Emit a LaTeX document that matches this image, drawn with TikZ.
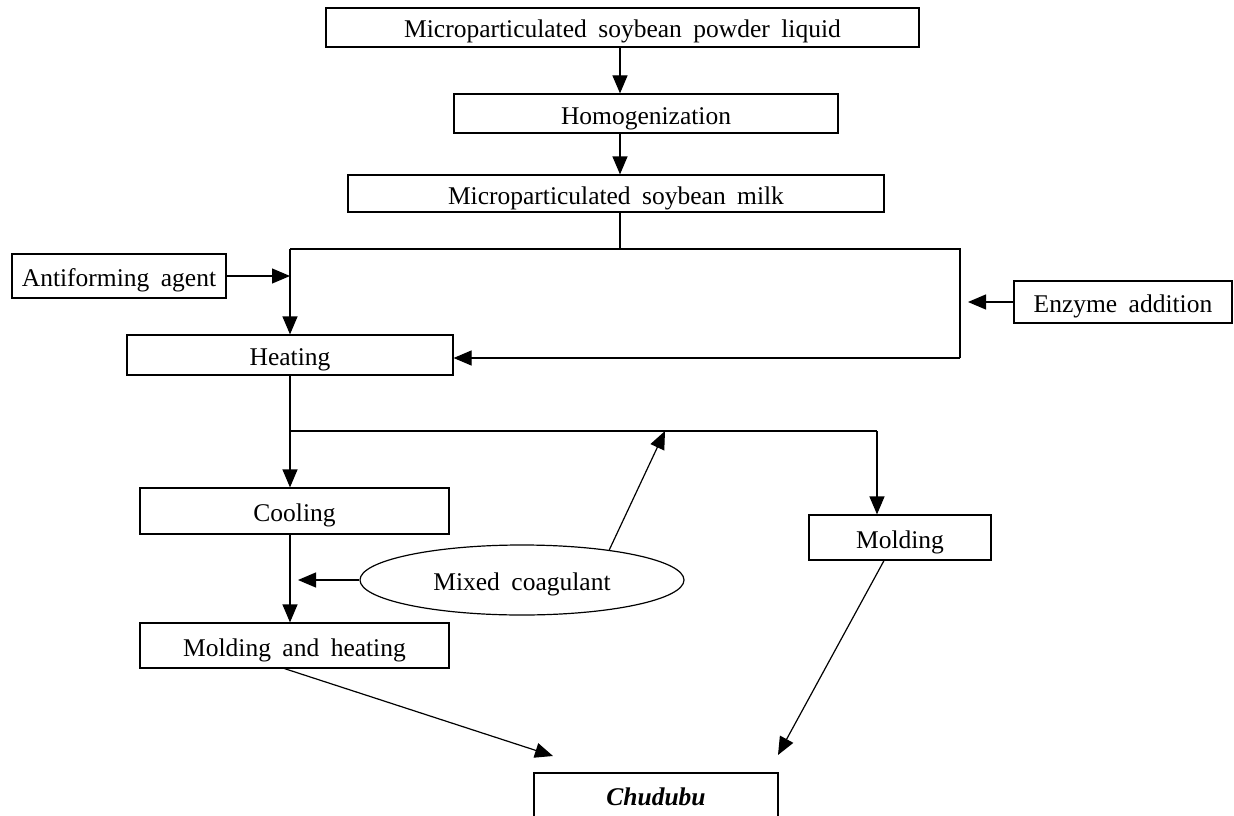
\documentclass[tikz,border=0pt]{standalone}
\usepackage{fontspec}
\setmainfont{Liberation Serif}
\usetikzlibrary{arrows.meta,shapes.geometric}
\newcommand\myfnt{\fontsize{25.5}{30}\selectfont\spaceskip=0.45em plus 0.1em\relax}
\begin{document}
\begin{tikzpicture}[x=1pt,y=-1pt,
  box/.style={draw, line width=1.2pt, rectangle, inner sep=0pt, font=\myfnt, text height=21pt, text depth=0pt},
  oval/.style={draw, line width=1.2pt, ellipse, inner sep=0pt, font=\myfnt, text height=21pt, text depth=0pt},
  arr/.style={line width=1.2pt, -{Triangle[length=18pt,width=15pt]}},
  ln/.style={line width=1.2pt}]
\useasboundingbox (0,0) rectangle (1234,816);
\clip (0,0) rectangle (1234,816);
% nodes
\node[box, minimum width=593pt, minimum height=39pt] (B1) at (622.5,27.5) {Microparticulated soybean powder liquid};
\node[box, minimum width=384pt, minimum height=39pt] (B2) at (646,113.5) {Homogenization};
\node[box, minimum width=536pt, minimum height=37pt] (B3) at (616,193.5) {Microparticulated soybean milk};
\node[box, minimum width=214pt, minimum height=44pt] (Anti) at (119,276) {Antiforming agent};
\node[box, minimum width=218pt, minimum height=42pt] (Enz) at (1123,302) {Enzyme addition};
\node[box, minimum width=326pt, minimum height=40pt] (Heat) at (290,355) {Heating};
\node[box, minimum width=309pt, minimum height=46pt] (Cool) at (294.5,511) {Cooling};
\node[box, minimum width=309pt, minimum height=45pt] (MH) at (294.5,645.5) {Molding and heating};
\node[box, minimum width=182pt, minimum height=45pt] (Mold) at (900,537.5) {Molding};
\node[box, minimum width=244pt, minimum height=44pt] (Chud) at (656,795) {\textbf{\textit{Chudubu}}};
\node[oval, minimum width=324pt, minimum height=70pt] (Mix) at (522,580) {Mixed coagulant};
% coordinates
\coordinate (ax) at (620,249);
\coordinate (bl) at (290,249);
\coordinate (br) at (960,249);
\coordinate (brb) at (960,358);
\coordinate (h1) at (290,431);
\coordinate (h2) at (877,431);
\coordinate (h3) at (665,431);
\coordinate (enzTip) at (968,302);
\coordinate (mixTip) at (298,580);
\coordinate (c1) at (553,756);
\coordinate (c2) at (778,755);
% connectors
\draw[arr] (B1.south -| ax) -- (B2.north -| ax);
\draw[arr] (B2.south -| ax) -- (B3.north -| ax);
\draw[ln] (B3.south -| ax) -- (ax);
\draw[ln] (bl) -- (br) -- (brb);
\draw[arr] (brb) -- (Heat.east |- brb);
\draw[arr] (bl) -- (Heat.north -| bl);
\draw[arr] (Anti.east) -- (Anti.east -| bl);
\draw[arr] (Enz.west) -- (enzTip);
\draw[ln] (Heat.south -| h1) -- (h1) -- (h2);
\draw[arr] (h2) -- (Mold.north -| h2);
\draw[arr] (h1) -- (Cool.north -| h1);
\draw[arr] (Cool.south -| h1) -- (MH.north -| h1);
\draw[arr] (Mix.west) -- (mixTip);
\draw[arr] (Mix.19) -- (h3);
\draw[arr] ([xshift=-10pt]MH.south) -- (c1);
\draw[arr] ([xshift=-16pt]Mold.south) -- (c2);
\end{tikzpicture}
\end{document}
